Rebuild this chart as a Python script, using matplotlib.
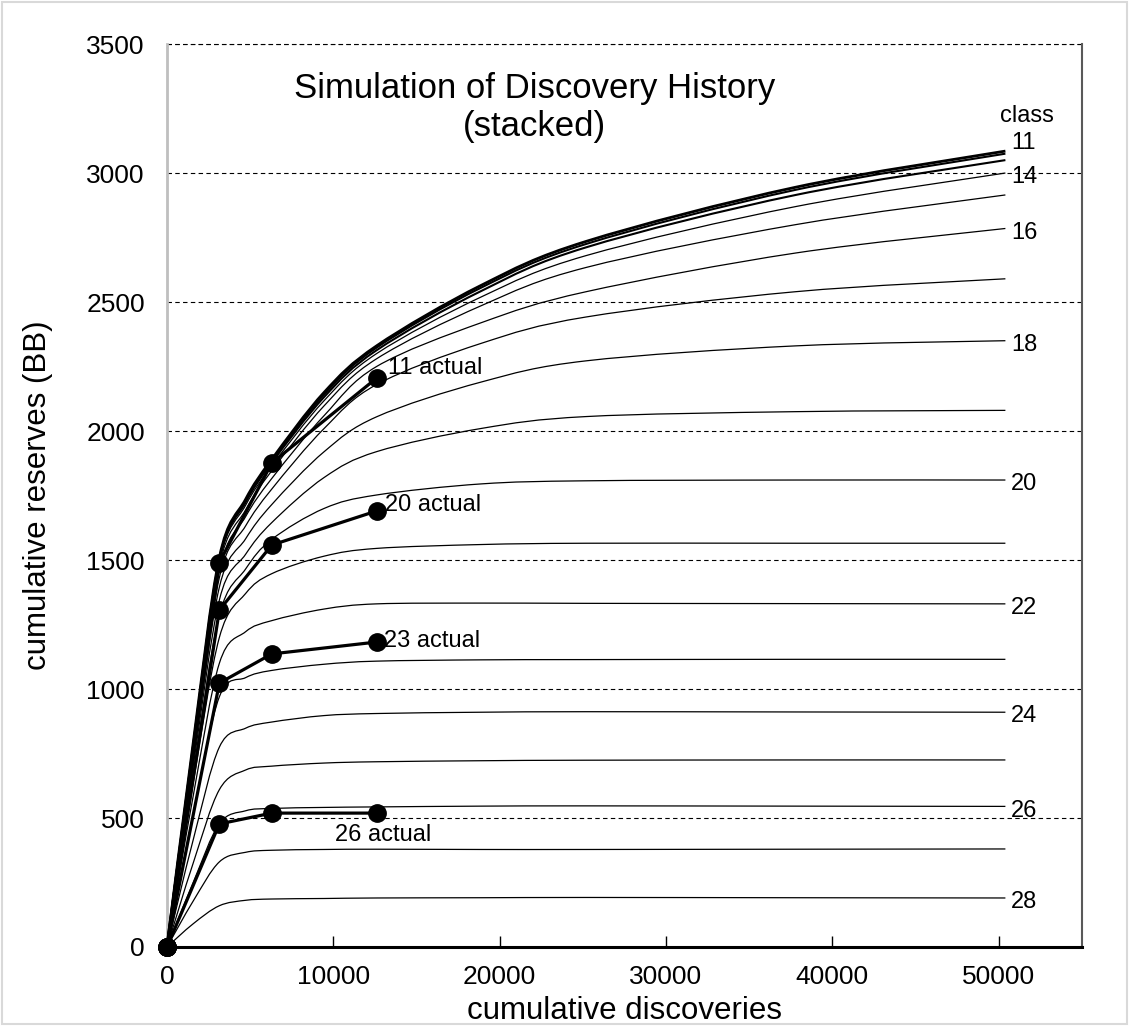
#!/usr/bin/env python3
"""
Stacked simulation of cumulative reserves vs cumulative discoveries,
one curve per size class, with the actual history for a few classes.
"""

import matplotlib

matplotlib.use("Agg")
import matplotlib.pyplot as plt
import numpy as np
from matplotlib.patches import PathPatch, Rectangle
from matplotlib.path import Path

plt.rcParams["font.family"] = ["Liberation Sans", "DejaVu Sans"]

# cumulative discoveries at which the simulation was sampled
disc_x = [0, 1575, 3150, 4725, 6300, 9450, 12600, 18900, 25200, 37800, 50400]

# stacked cumulative reserves (BB), one list per size class
sim_11 = [0, 790, 1510, 1735, 1890, 2150, 2330, 2565, 2735, 2945, 3085]
sim_12 = [0, 785, 1505, 1730, 1884, 2142, 2323, 2556, 2725, 2935, 3075]
sim_13 = [0, 780, 1500, 1723, 1877, 2132, 2313, 2543, 2712, 2915, 3050]
sim_14 = [0, 775, 1492, 1712, 1865, 2118, 2300, 2520, 2680, 2870, 3000]
sim_15 = [0, 768, 1478, 1694, 1846, 2098, 2280, 2486, 2634, 2800, 2915]
sim_16 = [0, 758, 1458, 1668, 1816, 2060, 2250, 2420, 2540, 2690, 2785]
sim_17 = [0, 745, 1432, 1632, 1775, 2010, 2180, 2340, 2442, 2540, 2590]
sim_18 = [0, 725, 1395, 1582, 1715, 1920, 2055, 2190, 2272, 2330, 2350]
sim_19 = [0, 700, 1345, 1522, 1645, 1820, 1920, 2010, 2056, 2075, 2080]
sim_20 = [0, 675, 1285, 1465, 1580, 1700, 1752, 1795, 1807, 1810, 1810]
sim_21 = [0, 635, 1200, 1370, 1447, 1515, 1545, 1560, 1565, 1565, 1565]
sim_22 = [0, 585, 1100, 1222, 1265, 1310, 1330, 1333, 1332, 1331, 1330]
sim_23 = [0, 515, 970, 1044, 1072, 1096, 1108, 1113, 1114, 1115, 1115]
sim_24 = [0, 415, 775, 848, 872, 897, 905, 910, 912, 911, 910]
sim_25 = [0, 325, 610, 686, 701, 713, 718, 722, 724, 725, 725]
sim_26 = [0, 250, 478, 528, 537, 541, 543, 546, 547, 546, 545]
sim_27 = [0, 178, 330, 367, 375, 378, 379, 378, 378, 379, 380]
sim_28 = [0, 90, 160, 181, 186, 188, 190, 191, 192, 191, 190]

classes = list(range(11, 29))
sim_curves = [sim_11, sim_12, sim_13, sim_14, sim_15, sim_16, sim_17, sim_18,
              sim_19, sim_20, sim_21, sim_22, sim_23, sim_24, sim_25, sim_26,
              sim_27, sim_28]

# classes that get a label at the right-hand end
labelled = [11, 14, 16, 18, 20, 22, 24, 26, 28]

# actual discovery history
actual_x = [0, 3150, 6300, 12600]
actual_11 = [0, 1490, 1876, 2205]
actual_20 = [0, 1306, 1558, 1690]
actual_23 = [0, 1023, 1136, 1182]
actual_26 = [0, 477, 519, 519]


def smooth_path(xs, ys):
    """Bezier path through the points, like a spreadsheet 'smoothed line'."""
    pts = np.column_stack([xs, ys]).astype(float)
    n = len(pts)
    verts = [pts[0]]
    codes = [Path.MOVETO]
    for i in range(n - 1):
        p0 = pts[max(i - 1, 0)]
        p1 = pts[i]
        p2 = pts[i + 1]
        p3 = pts[min(i + 2, n - 1)]
        verts += [p1 + (p2 - p0) / 6, p2 - (p3 - p1) / 6, p2]
        codes += [Path.CURVE4] * 3
    return Path(verts, codes)


fig = plt.figure(figsize=(11.29, 10.26), dpi=100)
fig.patches.append(Rectangle((0.002, 0.002), 0.996, 0.996, transform=fig.transFigure,
                             fill=False, edgecolor="#d9d9d9", linewidth=1.5))
ax = fig.add_axes([0.1479, 0.0770, 0.8104, 0.8801])

ax.set_xlim(0, 55000)
ax.set_ylim(0, 3500)

# simulated curves
for cls, ys in zip(classes, sim_curves):
    lw = 2.0 if cls == 11 else (1.5 if cls in (12, 13) else 0.9)
    ax.add_patch(PathPatch(smooth_path(disc_x, ys), fill=False,
                           edgecolor="black", linewidth=lw, zorder=3))
    if cls in labelled:
        dy = 6 if cls == 11 else -3
        ax.annotate(str(cls), (disc_x[-1], ys[-1]), xytext=(4, dy),
                    textcoords="offset points", ha="left", va="center",
                    fontsize=17)

ax.text(51700, 3220, "class", ha="center", va="center", fontsize=17)

# actual history
actuals = [
    (actual_11, "11 actual", (8, 7), "left"),
    (actual_20, "20 actual", (6, 4), "left"),
    (actual_23, "23 actual", (5, 1), "left"),
    (actual_26, "26 actual", (5, -16), "center"),
]
for ys, label, offset, ha in actuals:
    ax.plot(actual_x, ys, color="black", linewidth=2.3, marker="o",
            markersize=12.5, zorder=5, clip_on=False)
    ax.annotate(label, (actual_x[-1], ys[-1]), xytext=offset,
                textcoords="offset points", ha=ha, va="center", fontsize=17)

ax.text(0.402, 0.930, "Simulation of Discovery History\n(stacked)",
        transform=ax.transAxes, ha="center", va="center", fontsize=25,
        linespacing=1.2)

# axes styling
ax.set_yticks(np.arange(0, 3501, 500))
ax.set_xticks(np.arange(0, 50001, 10000))
ax.yaxis.grid(True, linestyle=(0, (4, 3)), color="black", linewidth=0.8)
ax.axhline(3500, linestyle=(0, (4, 3)), color="black", linewidth=0.8,
           clip_on=False)
ax.set_axisbelow(True)
ax.spines["top"].set_visible(False)
ax.spines["left"].set_color("#bfbfbf")
ax.spines["left"].set_linewidth(2.0)
ax.spines["right"].set_color("#595959")
ax.spines["right"].set_linewidth(1.5)
ax.spines["bottom"].set_color("black")
ax.spines["bottom"].set_linewidth(2.2)
ax.tick_params(axis="x", direction="in", length=8, width=1, pad=13,
               labelsize=19)
ax.tick_params(axis="y", length=0, pad=16, labelsize=19)

ax.set_xlabel("cumulative discoveries", fontsize=22.5)
ax.set_ylabel("cumulative reserves (BB)", fontsize=22.5)
ax.xaxis.set_label_coords(0.5, -0.054)
ax.yaxis.set_label_coords(-0.125, 0.5)

fig.savefig("out.png", dpi=100)
plt.close(fig)
